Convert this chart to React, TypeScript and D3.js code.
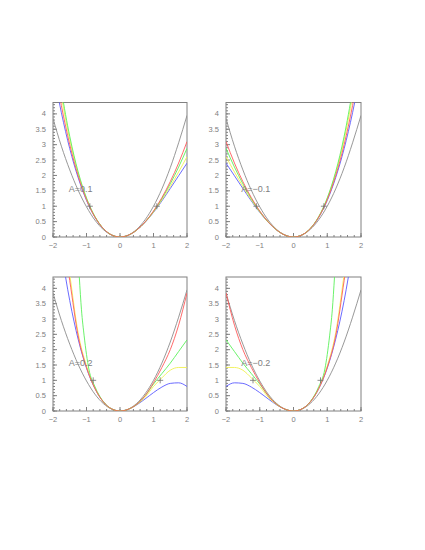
import React from "react";
import * as d3 from "d3";

type Pt = [number, number];

const xMajor = [-2, -1, 0, 1, 2];
const yMajor = [0, 0.5, 1, 1.5, 2, 2.5, 3, 3.5, 4];
const yLabels = ["0", "0.5", "1", "1.5", "2", "2.5", "3", "3.5", "4"];
const xLabels = ["\u22122", "\u22121", "0", "1", "2"];
const panelLabels = ["A=0.1", "A=\u22120.1", "A=0.2", "A=\u22120.2"];

// reference parabola
const grayCurve: Pt[] = [[-2, 3.85], [-1.75, 2.95], [-1.5, 2.18], [-1.25, 1.52], [-1, 0.98], [-0.75, 0.55], [-0.5, 0.245], [-0.25, 0.062], [0, 0], [0.25, 0.0625], [0.5, 0.25], [0.75, 0.5625], [1, 1], [1.25, 1.5625], [1.5, 2.25], [1.75, 3.06], [2, 3.95]];

// panel A=0.1
const blue1: Pt[] = [[-2, 5.44], [-1.75, 4.04], [-1.5, 2.87], [-1.25, 1.93], [-1, 1.19], [-0.75, 0.644], [-0.5, 0.274], [-0.25, 0.066], [0, 0], [0.25, 0.059], [0.5, 0.225], [0.75, 0.478], [1, 0.8], [1.25, 1.172], [1.5, 1.575], [1.75, 1.99], [2, 2.4]];
const yellow1: Pt[] = [[-2, 6.34], [-1.75, 4.57], [-1.5, 3.16], [-1.25, 2.065], [-1, 1.246], [-0.75, 0.661], [-0.5, 0.278], [-0.25, 0.066], [0, 0], [0.25, 0.059], [0.5, 0.226], [0.75, 0.482], [1, 0.813], [1.25, 1.204], [1.5, 1.641], [1.75, 2.113], [2, 2.61]];
const green1: Pt[] = [[-2, 6.7], [-1.75, 4.78], [-1.5, 3.27], [-1.25, 2.12], [-1, 1.269], [-0.75, 0.669], [-0.5, 0.279], [-0.25, 0.066], [0, 0], [0.25, 0.0595], [0.5, 0.227], [0.75, 0.488], [1, 0.83], [1.25, 1.245], [1.5, 1.727], [1.75, 2.272], [2, 2.88]];
const red1: Pt[] = [[-2, 5.82], [-1.75, 4.27], [-1.5, 3.0], [-1.25, 1.99], [-1, 1.214], [-0.75, 0.651], [-0.5, 0.276], [-0.25, 0.066], [0, 0], [0.25, 0.0595], [0.5, 0.228], [0.75, 0.492], [1, 0.844], [1.25, 1.279], [1.5, 1.798], [1.75, 2.403], [2, 3.1]];

// panel A=-0.1
const blue2: Pt[] = [[-2, 2.4], [-1.75, 1.99], [-1.5, 1.575], [-1.25, 1.172], [-1, 0.8], [-0.75, 0.478], [-0.5, 0.225], [-0.25, 0.059], [0, 0], [0.25, 0.066], [0.5, 0.274], [0.75, 0.644], [1, 1.19], [1.25, 1.93], [1.5, 2.87], [1.75, 4.04], [2, 5.44]];
const yellow2: Pt[] = [[-2, 2.61], [-1.75, 2.113], [-1.5, 1.641], [-1.25, 1.204], [-1, 0.813], [-0.75, 0.482], [-0.5, 0.226], [-0.25, 0.059], [0, 0], [0.25, 0.066], [0.5, 0.278], [0.75, 0.661], [1, 1.246], [1.25, 2.065], [1.5, 3.16], [1.75, 4.57], [2, 6.34]];
const green2: Pt[] = [[-2, 2.88], [-1.75, 2.272], [-1.5, 1.727], [-1.25, 1.245], [-1, 0.83], [-0.75, 0.488], [-0.5, 0.227], [-0.25, 0.0595], [0, 0], [0.25, 0.066], [0.5, 0.279], [0.75, 0.669], [1, 1.269], [1.25, 2.12], [1.5, 3.27], [1.75, 4.78], [2, 6.7]];
const red2: Pt[] = [[-2, 3.1], [-1.75, 2.403], [-1.5, 1.798], [-1.25, 1.279], [-1, 0.844], [-0.75, 0.492], [-0.5, 0.228], [-0.25, 0.0595], [0, 0], [0.25, 0.066], [0.5, 0.276], [0.75, 0.651], [1, 1.214], [1.25, 1.99], [1.5, 3.0], [1.75, 4.27], [2, 5.82]];

// panel A=0.2
const blue3: Pt[] = [[-1.75, 5.2], [-1.5, 3.6], [-1.25, 2.344], [-1, 1.4], [-0.75, 0.731], [-0.5, 0.3], [-0.25, 0.069], [0, 0], [0.25, 0.056], [0.5, 0.2], [0.75, 0.394], [1, 0.6], [1.25, 0.781], [1.5, 0.9], [1.75, 0.919], [2, 0.8]];
const yellow3: Pt[] = [[-1.75, 6.4], [-1.5, 4.45], [-1.25, 2.55], [-1, 1.47], [-0.75, 0.75], [-0.5, 0.3], [-0.25, 0.069], [0, 0], [0.25, 0.057], [0.5, 0.21], [0.75, 0.45], [1, 0.8], [1.25, 1.08], [1.5, 1.33], [1.75, 1.42], [2, 1.42]];
const green3: Pt[] = [[-1.25, 5.0], [-1.215, 4.37], [-1.15, 3.3], [-1.07, 2.45], [-0.93, 1.37], [-0.75, 0.8], [-0.5, 0.31], [-0.25, 0.069], [0, 0], [0.25, 0.058], [0.5, 0.22], [0.75, 0.5], [1, 0.88], [1.25, 1.22], [1.5, 1.56], [1.75, 1.94], [2, 2.32]];
const red3: Pt[] = [[-1.75, 6.1], [-1.5, 4.25], [-1.25, 2.45], [-1, 1.42], [-0.75, 0.74], [-0.5, 0.3], [-0.25, 0.069], [0, 0], [0.25, 0.058], [0.5, 0.22], [0.75, 0.5], [1, 0.92], [1.25, 1.42], [1.5, 2.0], [1.75, 2.8], [2, 3.85]];

// panel A=-0.2
const blue4: Pt[] = [[-2, 0.8], [-1.75, 0.919], [-1.5, 0.9], [-1.25, 0.781], [-1, 0.6], [-0.75, 0.394], [-0.5, 0.2], [-0.25, 0.056], [0, 0], [0.25, 0.069], [0.5, 0.3], [0.75, 0.731], [1, 1.4], [1.25, 2.344], [1.5, 3.6], [1.75, 5.2]];
const yellow4: Pt[] = [[-2, 1.42], [-1.75, 1.42], [-1.5, 1.33], [-1.25, 1.08], [-1, 0.8], [-0.75, 0.45], [-0.5, 0.21], [-0.25, 0.057], [0, 0], [0.25, 0.069], [0.5, 0.3], [0.75, 0.75], [1, 1.47], [1.25, 2.55], [1.5, 4.45], [1.75, 6.4]];
const green4: Pt[] = [[-2, 2.32], [-1.75, 1.94], [-1.5, 1.56], [-1.25, 1.22], [-1, 0.88], [-0.75, 0.5], [-0.5, 0.22], [-0.25, 0.058], [0, 0], [0.25, 0.069], [0.5, 0.31], [0.75, 0.8], [0.93, 1.37], [1.07, 2.45], [1.15, 3.3], [1.215, 4.37], [1.25, 5.0]];
const red4: Pt[] = [[-2, 3.85], [-1.75, 2.8], [-1.5, 2.0], [-1.25, 1.42], [-1, 0.92], [-0.75, 0.5], [-0.5, 0.22], [-0.25, 0.058], [0, 0], [0.25, 0.069], [0.5, 0.3], [0.75, 0.74], [1, 1.42], [1.25, 2.45], [1.5, 4.25], [1.75, 6.1]];

// turning-point markers
const marks1: Pt[] = [[-0.9, 1], [1.1, 1]];
const marks2: Pt[] = [[-1.1, 1], [0.9, 1]];
const marks3: Pt[] = [[-0.8, 1], [1.2, 1]];
const marks4: Pt[] = [[-1.2, 1], [0.8, 1]];

const labelPos: Pt[] = [[-1.53, 1.55], [-1.55, 1.55], [-1.53, 1.55], [-1.55, 1.55]];

const COLORS = { gray: "#8c8c8c", blue: "#5a5aff", yellow: "#f0f050", green: "#5af05a", red: "#ff5a5a" };

const layouts = [
  { left: 53, right: 187, top: 102.5, bottom: 237 },
  { left: 226, right: 361, top: 102.5, bottom: 237 },
  { left: 53, right: 187, top: 277, bottom: 411 },
  { left: 226, right: 361, top: 277, bottom: 411 },
];

const curveSets = [
  [blue1, yellow1, green1, red1],
  [blue2, yellow2, green2, red2],
  [blue3, yellow3, green3, red3],
  [blue4, yellow4, green4, red4],
];
const markSets = [marks1, marks2, marks3, marks4];
const curveColors = [COLORS.blue, COLORS.yellow, COLORS.green, COLORS.red];

const Y_MAX = 4.37;
const FONT = "'Liberation Sans', Arial, sans-serif";
const TXT = "#808080";

function Panel({ idx }: { idx: number }) {
  const L = layouts[idx];
  const x = d3.scaleLinear().domain([-2, 2]).range([L.left, L.right]);
  const y = d3.scaleLinear().domain([0, Y_MAX]).range([L.bottom, L.top]);
  const line = d3
    .line<Pt>()
    .x((d) => x(d[0]))
    .y((d) => y(d[1]))
    .curve(d3.curveMonotoneX);
  const clipId = `clip${idx}`;
  const xMinor = d3.range(-2, 2.0001, 0.2);
  const yMinor = d3.range(0, Y_MAX, 0.1);
  return (
    <g>
      <defs>
        <clipPath id={clipId}>
          <rect x={L.left} y={L.top} width={L.right - L.left} height={L.bottom - L.top} />
        </clipPath>
      </defs>
      <rect x={L.left} y={L.top} width={L.right - L.left} height={L.bottom - L.top} fill="none" stroke={TXT} strokeWidth={1} />
      {xMinor.map((v, i) => (
        <line key={"xm" + i} x1={x(v)} x2={x(v)} y1={L.bottom} y2={L.bottom - 2} stroke={TXT} />
      ))}
      {xMajor.map((v, i) => (
        <line key={"xM" + i} x1={x(v)} x2={x(v)} y1={L.bottom} y2={L.bottom - 4} stroke={TXT} />
      ))}
      {yMinor.map((v, i) => (
        <line key={"ym" + i} x1={L.left} x2={L.left + 2} y1={y(v)} y2={y(v)} stroke={TXT} />
      ))}
      {yMajor.map((v, i) => (
        <line key={"yM" + i} x1={L.left} x2={L.left + 4} y1={y(v)} y2={y(v)} stroke={TXT} />
      ))}
      {xMajor.map((v, i) => (
        <text key={"xl" + i} x={x(v)} y={L.bottom + 10.5} fontSize={7.5} fontFamily={FONT} fill={TXT} textAnchor="middle">
          {xLabels[i]}
        </text>
      ))}
      {yMajor.map((v, i) => (
        <text key={"yl" + i} x={L.left - 7} y={y(v) + 2.6} fontSize={7.5} fontFamily={FONT} fill={TXT} textAnchor="end">
          {yLabels[i]}
        </text>
      ))}
      <g clipPath={`url(#${clipId})`} fill="none">
        <path d={line(grayCurve) || ""} stroke={COLORS.gray} strokeWidth={0.9} />
        {curveSets[idx].map((c, i) => (
          <path key={"c" + i} d={line(c) || ""} stroke={curveColors[i]} strokeWidth={0.9} />
        ))}
      </g>
      {markSets[idx].map((m, i) => (
        <g key={"mk" + i} stroke="#707070" strokeWidth={0.8}>
          <line x1={x(m[0]) - 3} x2={x(m[0]) + 3} y1={y(m[1])} y2={y(m[1])} />
          <line x1={x(m[0])} x2={x(m[0])} y1={y(m[1]) - 3} y2={y(m[1]) + 3} />
        </g>
      ))}
      <text x={x(labelPos[idx][0])} y={y(labelPos[idx][1]) + 3} fontSize={9} fontFamily={FONT} fill={TXT}>
        {panelLabels[idx]}
      </text>
    </g>
  );
}

export default function App() {
  return (
    <svg width={425} height={550} style={{ position: "absolute", left: 0, top: 0, background: "#fff" }}>
      {[0, 1, 2, 3].map((i) => (
        <Panel key={i} idx={i} />
      ))}
    </svg>
  );
}
